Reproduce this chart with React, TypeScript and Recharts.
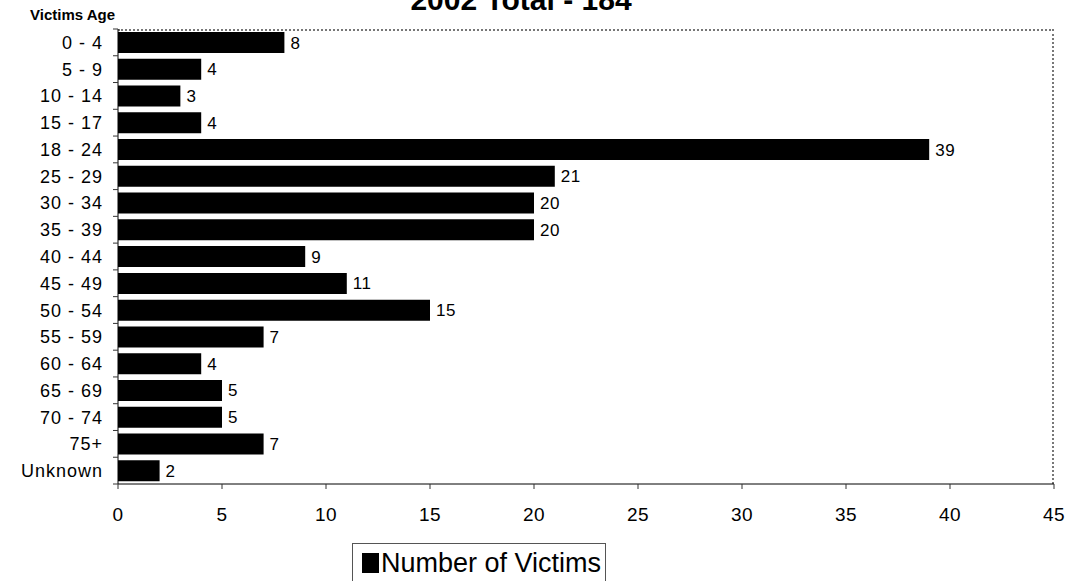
import {BarChart, Bar, XAxis, YAxis, LabelList} from 'recharts'

const ageGroups = ['0 - 4', '5 - 9', '10 - 14', '15 - 17', '18 - 24', '25 - 29', '30 - 34', '35 - 39', '40 - 44',
    '45 - 49', '50 - 54', '55 - 59', '60 - 64', '65 - 69', '70 - 74', '75+', 'Unknown']
const victims = [8, 4, 3, 4, 39, 21, 20, 20, 9, 11, 15, 7, 4, 5, 5, 7, 2]
const xTicks = [0, 5, 10, 15, 20, 25, 30, 35, 40, 45]

const data = ageGroups.map((age, i) => ({age, victims: victims[i]}))

const font = "Arial, 'Liberation Sans', sans-serif"
const plotTop = 29
const plotBottom = 484
const bandHalf = (plotBottom - plotTop) / ageGroups.length / 2

// excel style: tick mark sits between categories, label centred on the bar
const AgeTick = (props: any) => {
    const {x, y, payload, index} = props
    return (
        <g>
            <line x1={118 - 5} x2={118} y1={y - bandHalf} y2={y - bandHalf} stroke='#333'/>
            {index === ageGroups.length - 1 &&
                <line x1={118 - 5} x2={118} y1={y + bandHalf} y2={y + bandHalf} stroke='#333'/>}
            <text x={x} y={y} dy='0.36em' textAnchor='end' fontSize={18} letterSpacing={1} fontFamily={font} fill='#000'>
                {payload.value}
            </text>
        </g>
    )
}

export default function App() {
    return (
        <div style={{position: 'absolute', left: 0, top: 0, width: 1072, height: 581, background: '#fff', overflow: 'hidden'}}>
            <div style={{
                position: 'absolute', left: 118, top: plotTop, width: 1054 - 118, height: plotBottom - plotTop,
                borderTop: '2px dotted #777', borderRight: '2px dotted #777', boxSizing: 'border-box'
            }}/>
            <div style={{
                position: 'absolute', left: 0, width: 1072, textAlign: 'center', top: -17,
                fontFamily: font, fontWeight: 'bold', fontSize: 30
            }}>
                <span style={{position: 'relative', left: -15}}>2002 Total - 184</span>
            </div>
            <div style={{position: 'absolute', left: 30, top: 6, fontFamily: font, fontWeight: 'bold', fontSize: 15}}>
                Victims Age
            </div>
            <BarChart width={1072} height={581} data={data} layout='vertical' style={{position: 'absolute', left: 0, top: 0}}
                      margin={{top: plotTop, right: 18, bottom: 581 - plotBottom - 40, left: 0}} barCategoryGap={3}>
                <XAxis type='number' domain={[0, 45]} ticks={xTicks} interval={0} height={40}
                       axisLine={{stroke: '#000'}} tickLine={{stroke: '#333'}} tickSize={5} tickMargin={19}
                       tick={{fontSize: 19, letterSpacing: 0.5, fontFamily: font, fill: '#000'}}/>
                <YAxis type='category' dataKey='age' width={118} interval={0}
                       axisLine={{stroke: '#000'}} tickLine={false} tickSize={0} tickMargin={15}
                       tick={<AgeTick/>}/>
                <Bar dataKey='victims' name='Number of Victims' fill='#000' barSize={21} isAnimationActive={false}>
                    <LabelList dataKey='victims' position='right' offset={6} fontSize={17} letterSpacing={0.5}
                               fontFamily={font} fill='#000'/>
                </Bar>
            </BarChart>
            <div style={{
                position: 'absolute', left: 352, top: 543, border: '1px solid #555', width: 254, height: 48,
                boxSizing: 'border-box', display: 'flex', alignItems: 'flex-start', fontFamily: font, fontSize: 27,
                color: '#000', paddingLeft: 9, paddingTop: 4, lineHeight: '30px'
            }}>
                <span style={{display: 'inline-block', width: 17, height: 20, background: '#000', marginRight: 2, marginTop: 5}}/>
                Number of Victims
            </div>
        </div>
    )
}
